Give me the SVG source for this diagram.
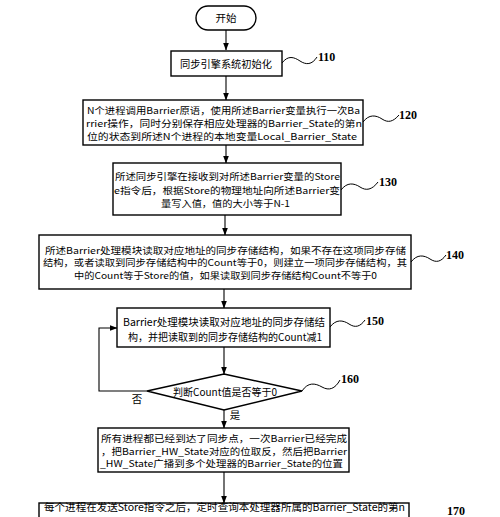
<svg xmlns="http://www.w3.org/2000/svg" width="500" height="517" viewBox="0 0 500 517">
<defs>
<marker id="ah" markerWidth="8" markerHeight="6" refX="7.5" refY="3" orient="auto" markerUnits="userSpaceOnUse">
<path d="M0,0 L8,3 L0,6 Z" fill="#000"/>
</marker>
<style>
.box{fill:#fff;stroke:#000;stroke-width:1.4}
.t{font-family:"Noto Sans CJK SC","Liberation Sans",sans-serif;font-size:10.5px;fill:#000;text-anchor:middle}
.m{font-size:9.2px}
.lbl{font-family:"Liberation Serif",serif;font-weight:bold;font-size:12px;fill:#000}
.sq{fill:none;stroke:#000;stroke-width:1}
.c{fill:none;stroke:#000;stroke-width:1.1}
</style>
</defs>
<rect width="500" height="517" fill="#fff"/>

<g id="connectors">
<line class="c" x1="226" y1="30" x2="226" y2="50" marker-end="url(#ah)"/>
<line class="c" x1="226" y1="76" x2="226" y2="100" marker-end="url(#ah)"/>
<line class="c" x1="226" y1="145" x2="226" y2="163" marker-end="url(#ah)"/>
<line class="c" x1="225" y1="215" x2="225" y2="235" marker-end="url(#ah)"/>
<line class="c" x1="224" y1="289" x2="224" y2="308" marker-end="url(#ah)"/>
<line class="c" x1="224" y1="347" x2="224" y2="374" marker-end="url(#ah)"/>
<polyline class="c" points="147,391 99,391 99,328 117,328" marker-end="url(#ah)"/>
<line class="c" x1="224" y1="410" x2="224" y2="428" marker-end="url(#ah)"/>
<line class="c" x1="224" y1="472" x2="224" y2="503" marker-end="url(#ah)"/>
<text class="t" x="137" y="403">否</text>
<text class="t" x="235" y="419">是</text>
</g>

<g id="start">
<rect class="box" x="196" y="6" width="60" height="24" rx="12"/>
<text class="t" x="226" y="22" textLength="21" lengthAdjust="spacingAndGlyphs">开始</text>
</g>

<g id="n110">
<rect class="box" x="171" y="51" width="111" height="25"/>
<text class="t" x="226" y="68" textLength="92" lengthAdjust="spacingAndGlyphs">同步引擎系统初始化</text>
<path class="sq" d="M282,63 C288,55 294,57 300,61 S312,65 317,57"/>
<text class="lbl" x="318" y="61">110</text>
</g>

<g id="n120">
<rect class="box" x="83" y="100" width="280" height="45"/>
<text class="t m" x="223.5" y="114" textLength="273" lengthAdjust="spacingAndGlyphs">N个进程调用Barrier原语，使用所述Barrier变量执行一次Ba</text>
<text class="t m" x="224" y="127" textLength="276" lengthAdjust="spacingAndGlyphs">rrier操作，同时分别保存相应处理器的Barrier_State的第n</text>
<text class="t m" x="222" y="139.5" textLength="270" lengthAdjust="spacingAndGlyphs">位的状态到所述N个进程的本地变量Local_Barrier_State</text>
<path class="sq" d="M363,122 C369,114 376,115 382,119 S393,122 399,115"/>
<text class="lbl" x="399" y="119">120</text>
</g>

<g id="n130">
<rect class="box" x="113" y="163" width="228" height="52"/>
<text class="t m" x="227.5" y="179.5" textLength="225" lengthAdjust="spacingAndGlyphs">所述同步引擎在接收到对所述Barrier变量的Store</text>
<text class="t m" x="227" y="193.5" textLength="226" lengthAdjust="spacingAndGlyphs">e指令后，根据Store的物理地址向所述Barrier变</text>
<text class="t m" x="225.5" y="206.5" textLength="129" lengthAdjust="spacingAndGlyphs">量写入值，值的大小等于N-1</text>
<path class="sq" d="M341,190 C347,182 354,183 360,187 S372,190 378,182"/>
<text class="lbl" x="379" y="186">130</text>
</g>

<g id="n140">
<rect class="box" x="39" y="235" width="372" height="54"/>
<text class="t m" x="225.5" y="253.5" textLength="361" lengthAdjust="spacingAndGlyphs">所述Barrier处理模块读取对应地址的同步存储结构，如果不存在这项同步存储</text>
<text class="t m" x="225" y="266" textLength="364" lengthAdjust="spacingAndGlyphs">结构，或者读取到同步存储结构中的Count等于0，则建立一项同步存储结构，其</text>
<text class="t m" x="225.5" y="278.5" textLength="303" lengthAdjust="spacingAndGlyphs">中的Count等于Store的值，如果读取到同步存储结构Count不等于0</text>
<path class="sq" d="M411,262 C417,254 424,255 430,259 S441,262 446,255"/>
<text class="lbl" x="446" y="259">140</text>
</g>

<g id="n150">
<rect class="box" x="117" y="308" width="213" height="39"/>
<text class="t" x="224" y="326" textLength="202" lengthAdjust="spacingAndGlyphs">Barrier处理模块读取对应地址的同步存储结</text>
<text class="t" x="225" y="341" textLength="194" lengthAdjust="spacingAndGlyphs">构，并把读取到的同步存储结构的Count减1</text>
<path class="sq" d="M330,327 C336,319 343,320 349,324 S360,327 365,320"/>
<text class="lbl" x="366" y="325">150</text>
</g>

<g id="n160">
<polygon class="box" points="224,374 302,391 224,410 147,391"/>
<text class="t" x="225" y="396" textLength="104" lengthAdjust="spacingAndGlyphs">判断Count值是否等于0</text>
<path class="sq" d="M302,391 C308,382 315,383 322,387 S335,389 340,380"/>
<text class="lbl" x="341" y="383">160</text>
</g>

<g id="n180">
<rect class="box" x="98" y="428" width="251" height="44"/>
<text class="t m" x="224" y="441.5" textLength="246" lengthAdjust="spacingAndGlyphs">所有进程都已经到达了同步点，一次Barrier已经完成</text>
<text class="t m" x="224" y="454.5" textLength="246" lengthAdjust="spacingAndGlyphs">，把Barrier_HW_State对应的位取反，然后把Barrier</text>
<text class="t m" x="221.5" y="467" textLength="243" lengthAdjust="spacingAndGlyphs">_HW_State广播到多个处理器的Barrier_State的位置</text>
</g>

<g id="n170">
<rect class="box" x="39" y="503" width="370" height="30"/>
<text class="t" x="224.5" y="511" textLength="361" lengthAdjust="spacingAndGlyphs">每个进程在发送Store指令之后，定时查询本处理器所属的Barrier_State的第n</text>
<text class="lbl" x="447" y="515">170</text>
</g>
</svg>
